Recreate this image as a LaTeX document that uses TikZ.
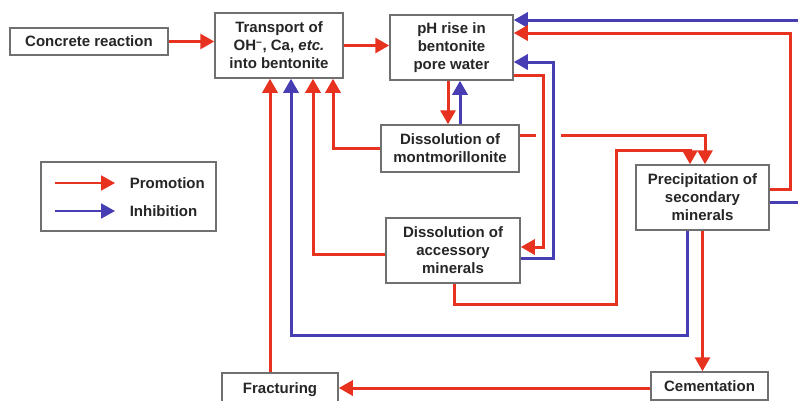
\documentclass[tikz,border=0pt]{standalone}
\usepackage{fontspec}
\setmainfont{Liberation Sans}
\usetikzlibrary{arrows.meta,calc}
\definecolor{promred}{RGB}{232,50,32}
\definecolor{inhblue}{RGB}{70,62,178}
\definecolor{boxgray}{RGB}{112,112,112}
\tikzset{
  box/.style={draw=boxgray, line width=1.5pt, fill=white, inner sep=0pt, align=center,
    text=black!85, font=\fontsize{15}{18}\selectfont\bfseries},
  prom/.style={draw=promred, line width=3pt, -{Triangle[length=14pt,width=15pt]}},
  inh/.style={draw=inhblue, line width=3pt, -{Triangle[length=14pt,width=15pt]}},
}
\begin{document}
\begin{tikzpicture}[x=1pt, y=-1pt]
  \useasboundingbox (0,0) rectangle (798,400);
  \clip (0,0) rectangle (798,400);
  % boxes
  \node[box, minimum width=158pt, minimum height=27pt] (conc) at (89,41.5) {Concrete reaction};
  \node[box, minimum width=128pt, minimum height=65pt] (transp) at (279,45.5) {Transport of\\OH\textsuperscript{--}, Ca, \textit{etc.}\\into bentonite};
  \node[box, minimum width=123pt, minimum height=65pt] (ph) at (451.5,47.5) {pH rise in\\bentonite\\pore water};
  \node[box, minimum width=138pt, minimum height=47pt] (mont) at (450,148.5) {Dissolution of\\montmorillonite};
  \node[box, minimum width=134pt, minimum height=65pt] (acc) at (453,250.5) {Dissolution of\\accessory\\minerals};
  \node[box, minimum width=133pt, minimum height=65pt] (precip) at (702.5,197.5) {Precipitation of\\secondary\\minerals};
  \node[box, minimum width=116pt, minimum height=34pt] (frac) at (280,390) {Fracturing};
  \node[box, minimum width=117pt, minimum height=28pt] (cem) at (709.5,386) {Cementation};
  % legend
  \node[box, minimum width=175pt, minimum height=69pt] (legend) at (128.5,196.5) {};
  \coordinate (proma) at (55,183);
  \coordinate (promb) at (115,183);
  \coordinate (inha) at (55,211);
  \coordinate (inhb) at (115,211);
  \draw[prom, line width=2pt] (proma) -- (promb);
  \draw[inh, line width=2pt] (inha) -- (inhb);
  \node[box, draw=none, fill=none, anchor=west] (promtxt) at (129,183) {Promotion};
  \node[box, draw=none, fill=none, anchor=west] (inhtxt) at (129,211) {Inhibition};
  % main chain
  \draw[prom] (conc.east) -- (conc.east -| transp.west);
  \draw[prom] (transp.east) -- (transp.east -| ph.west);
  % feedback into pH rise
  \draw[inh] ([yshift=-4.5pt]precip.east) -- ++(120,0) |- ([yshift=27.5pt]ph.east);
  \draw[prom] ([yshift=8.5pt]precip.east) -- ++(21,0) |- ([yshift=14.5pt]ph.east);
  \draw[inh] ([yshift=-7.5pt]acc.east) -- ++(33,0) |- ([yshift=-14.5pt]ph.east);
  \draw[prom] ([yshift=-27.5pt]ph.east) -- ++(30,0) |- ([yshift=3.5pt]acc.east);
  \draw[prom] ([xshift=-3.5pt]ph.south) -- ([xshift=-3.5pt]ph.south |- mont.north);
  \draw[inh] ([xshift=8.5pt]ph.south |- mont.north) -- ([xshift=8.5pt]ph.south);
  % into precipitation (jump over the two verticals)
  \coordinate (gapl) at (536,135);
  \coordinate (gapr) at (561,135);
  \draw[prom, -] ([yshift=13.5pt]mont.east) -- (gapl);
  \draw[prom] (gapr) -| ([xshift=2.5pt]precip.north);
  \draw[prom] ([xshift=1pt]acc.south) -- ++(0,21) -- ++(162,0) -- ++(0,-154) -| ([xshift=-12.5pt]precip.north);
  % out of precipitation
  \draw[inh] ([xshift=-15.5pt]precip.south) -- ++(0,105) -| ([xshift=12pt]transp.south);
  \draw[prom] (precip.south) -- (precip.south |- cem.north);
  \draw[prom] ([yshift=-2pt]cem.west) -- ([yshift=-2pt]cem.west -| frac.east);
  % back into transport
  \draw[prom] ([xshift=-10pt]frac.north) -- ([xshift=-10pt]frac.north |- transp.south);
  \draw[prom] (mont.west) -| ([xshift=54pt]transp.south);
  \draw[prom] ([yshift=-3.5pt]acc.west) -| ([xshift=34pt]transp.south);
\end{tikzpicture}
\end{document}
